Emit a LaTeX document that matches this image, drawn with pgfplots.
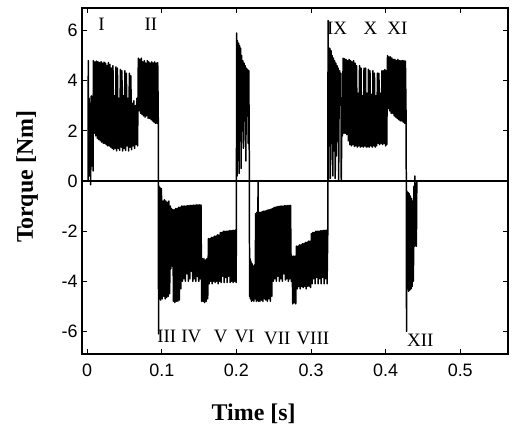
\documentclass[border=0pt]{standalone}
\usepackage{fontspec}
\setmainfont{Liberation Serif}
\setsansfont{Liberation Sans}
\usepackage{pgfplots}
\pgfplotsset{compat=1.18}
\begin{document}
\begin{tikzpicture}[x=1bp,y=1bp]
\begin{axis}[
  scale only axis, width=426bp, height=346bp,
  xmin=-0.007, xmax=0.564, ymin=-6.9, ymax=6.9,
  xtick={0,0.1,0.2,0.3,0.4,0.5},
  xticklabels={0,0.1,0.2,0.3,0.4,0.5},
  ytick={-6,-4,-2,0,2,4,6},
  /pgf/number format/assume math mode=true,
  tick label style={font=\sffamily\fontsize{18}{18}\selectfont},
  xticklabel style={yshift=-6bp},
  yticklabel style={xshift=-1bp},
  tick align=inside, major tick length=5bp,
  every tick/.style={black, line width=0.9pt},
  axis line style={line width=1.3pt},
  xlabel={\textbf{Time [s]}},
  ylabel={\textbf{Torque [Nm]}},
  label style={font=\fontsize{24}{24}\selectfont},
  xlabel style={at={(axis description cs:0.403,-0.173)}, anchor=center},
  ylabel style={at={(axis description cs:-0.129,0.512)}, anchor=center, rotate=0},
  clip=true,
]
% zero line
\addplot[black, line width=1.3pt] coordinates {(-0.007,0) (0.564,0)};
% torque trace
\addplot[black, line width=1.5pt, line join=round, line cap=round] coordinates {
(0,0) (0.0012,0) (0.0014,4.8) (0.0018,0.3) (0.0026,3.3) (0.0032,0.2) (0.0040,3.1) (0.0046,-0.15) (0.0054,3.4) (0.0062,0.6) (0.0070,3.0) (0.0078,0.4) (0.0082,4.8) (0.0090,2.5) (0.0096,4.7) (0.0102,1.9)
(0.0105,4.75) (0.0115,1.8) (0.0125,4.78) (0.0135,1.7) (0.0145,4.75) (0.0155,1.65) (0.0165,4.72) (0.0175,1.6) (0.0185,4.76) (0.0195,1.55)
(0.0205,4.7) (0.0215,1.5) (0.0225,4.74) (0.0235,1.5) (0.0245,4.7) (0.0255,1.45) (0.0265,4.6) (0.0275,1.4) (0.0285,4.72) (0.0295,1.4)
(0.0305,4.65) (0.0315,1.35) (0.0325,4.5) (0.0335,1.3) (0.0345,4.6) (0.0355,1.25) (0.0365,3.4) (0.0375,1.3) (0.0385,4.55) (0.0395,1.2)
(0.0405,4.5) (0.0415,1.3) (0.0425,3.3) (0.0435,1.22) (0.0445,4.45) (0.0455,1.35) (0.0465,4.4) (0.0475,1.2) (0.0485,3.4) (0.0495,1.3)
(0.0505,4.4) (0.0515,1.22) (0.0525,4.3) (0.0535,1.4) (0.0545,3.3) (0.0555,1.2) (0.0565,4.3) (0.0575,1.35) (0.0585,4.2) (0.0595,1.25)
(0.0605,3.1) (0.0615,1.4) (0.0625,3.2) (0.0635,1.3) (0.0645,3.0) (0.0655,1.45) (0.0665,3.3) (0.0675,1.4)
(0.0685,4.9) (0.0695,2.8) (0.0705,4.85) (0.0715,2.7) (0.0725,4.9) (0.0735,2.65) (0.0745,4.75) (0.0755,2.6) (0.0765,4.8) (0.0775,2.55)
(0.0785,4.7) (0.0795,2.6) (0.0805,4.8) (0.0815,2.5) (0.0825,4.75) (0.0835,2.5) (0.0845,4.7) (0.0855,2.45) (0.0865,4.75) (0.0875,2.4)
(0.0885,4.7) (0.0895,2.35) (0.0905,4.75) (0.0915,2.3) (0.0925,4.7) (0.0935,2.3) (0.0945,4.72) (0.0953,2.25)
(0.0956,-6.1) (0.0960,-0.2) (0.0965,-4.7) (0.0975,-0.25) (0.0985,-4.75) (0.0995,-0.3) (0.1005,-4.7) (0.1015,-0.8) (0.1025,-4.6) (0.1035,-0.75)
(0.1045,-4.7) (0.1055,-0.8) (0.1065,-4.65) (0.1075,-0.85) (0.1085,-4.6) (0.1095,-0.8) (0.1105,-4.5)
(0.1115,-1.0) (0.1122,-3.5) (0.1130,-1.1) (0.1140,-3.4) (0.1148,-1.15)
(0.1155,-4.8) (0.1165,-1.15) (0.1175,-4.85) (0.1185,-1.1) (0.1195,-4.8) (0.1205,-1.1) (0.1215,-4.8) (0.1225,-1.05) (0.1235,-4.75) (0.1245,-1.05)
(0.1255,-4.3) (0.1265,-1.0) (0.1275,-4.0) (0.1285,-1.0) (0.1295,-3.9) (0.1305,-1.0) (0.1315,-4.0) (0.1325,-1.0) (0.1335,-3.7) (0.1345,-0.98)
(0.1355,-4.0) (0.1365,-0.98) (0.1375,-3.9) (0.1385,-0.97) (0.1395,-3.6) (0.1405,-0.97) (0.1415,-4.0) (0.1425,-0.96) (0.1435,-3.9) (0.1445,-0.96)
(0.1455,-4.0) (0.1465,-0.95) (0.1475,-3.8) (0.1485,-0.95) (0.1495,-4.0) (0.1505,-0.95) (0.1515,-3.9) (0.1525,-0.95) (0.1530,-3.2)
(0.1535,-4.8) (0.1545,-3.1) (0.1555,-4.8) (0.1565,-3.1) (0.1575,-4.85) (0.1585,-3.15) (0.1595,-4.8) (0.1605,-3.1) (0.1615,-4.7) (0.1625,-2.3)
(0.1635,-4.1) (0.1645,-2.3) (0.1655,-4.0) (0.1665,-2.25) (0.1675,-4.1) (0.1685,-2.25) (0.1695,-4.0) (0.1705,-2.2) (0.1715,-4.05) (0.1725,-2.2)
(0.1735,-4.0) (0.1745,-2.15) (0.1755,-4.1) (0.1765,-2.15) (0.1775,-4.0) (0.1785,-2.05) (0.1795,-4.05) (0.1805,-2.05) (0.1815,-3.8) (0.1825,-2.0)
(0.1835,-4.05) (0.1845,-2.0) (0.1855,-3.85) (0.1865,-2.0) (0.1875,-4.05) (0.1885,-2.0) (0.1895,-3.8) (0.1905,-1.98) (0.1915,-4.05) (0.1925,-1.98)
(0.1935,-4.0) (0.1945,-1.97) (0.1955,-4.05) (0.1965,-1.97) (0.1975,-4.0) (0.1985,-1.96) (0.1995,-4.05) (0.2000,-1.96)
(0.2002,5.9) (0.2008,0.2) (0.2014,5.6) (0.2021,1.4) (0.2028,5.5) (0.2035,0.3) (0.2042,5.4) (0.2049,1.6) (0.2056,5.3) (0.2063,0.5)
(0.2070,5.0) (0.2078,2.0) (0.2086,4.8) (0.2094,1.3) (0.2102,4.7) (0.2110,2.4) (0.2118,4.6) (0.2126,0.8) (0.2134,4.5) (0.2142,2.6)
(0.2150,4.45) (0.2158,1.5) (0.2166,4.4) (0.2174,0.0)
(0.2176,-4.6) (0.2182,-3.1) (0.2188,-4.7) (0.2195,-3.2) (0.2202,-4.8) (0.2210,-3.3) (0.2218,-4.75) (0.2226,-3.4) (0.2234,-4.8) (0.2242,-3.35)
(0.2250,-4.7) (0.2258,-1.3) (0.2266,-4.8) (0.2274,-1.25) (0.2282,-4.75) (0.2290,-0.05) (0.2295,-4.8)
(0.2305,-1.25) (0.2315,-4.8) (0.2325,-1.25) (0.2335,-4.75) (0.2345,-1.22) (0.2355,-4.8) (0.2365,-1.2) (0.2375,-4.7) (0.2385,-1.2) (0.2395,-4.75)
(0.2405,-1.18) (0.2415,-4.8) (0.2425,-1.15) (0.2435,-4.7) (0.2445,-1.15) (0.2455,-4.8) (0.2465,-1.12) (0.2475,-4.6) (0.2485,-1.1) (0.2495,-4.0)
(0.2505,-1.05) (0.2515,-3.9) (0.2525,-1.05) (0.2535,-4.0) (0.2545,-1.02) (0.2555,-3.8) (0.2565,-1.02) (0.2575,-4.0) (0.2585,-1.0) (0.2595,-3.9)
(0.2605,-1.0) (0.2615,-4.0) (0.2625,-1.0) (0.2635,-3.7) (0.2645,-0.98) (0.2655,-3.95) (0.2665,-0.98) (0.2675,-3.9) (0.2685,-0.98) (0.2695,-4.0)
(0.2705,-0.97) (0.2715,-3.9) (0.2725,-0.97) (0.2735,-4.0)
(0.2745,-3.0) (0.2755,-4.9) (0.2765,-3.0) (0.2775,-4.85) (0.2785,-3.0) (0.2795,-4.9) (0.2805,-2.6) (0.2815,-4.3) (0.2825,-2.6) (0.2835,-4.2)
(0.2845,-2.55) (0.2855,-4.3) (0.2865,-2.55) (0.2875,-4.2) (0.2885,-2.5) (0.2895,-4.25) (0.2905,-2.5) (0.2915,-4.2) (0.2925,-2.45) (0.2935,-4.3)
(0.2945,-2.45) (0.2955,-4.2) (0.2965,-2.4) (0.2975,-4.2) (0.2985,-2.4) (0.2995,-4.25) (0.3005,-2.1) (0.3015,-4.1) (0.3025,-2.05) (0.3035,-3.9)
(0.3045,-2.05) (0.3055,-4.1) (0.3065,-2.0) (0.3075,-3.85) (0.3085,-2.0) (0.3095,-4.1) (0.3105,-2.0) (0.3115,-3.9) (0.3125,-1.98) (0.3135,-4.1)
(0.3145,-1.98) (0.3155,-3.85) (0.3165,-1.97) (0.3175,-4.1) (0.3185,-1.97) (0.3195,-3.9) (0.3205,-1.96) (0.3215,-4.1) (0.3225,-1.95)
(0.3228,6.4) (0.3232,0.0) (0.3238,5.3) (0.3245,1.4) (0.3252,5.3) (0.3260,0.1) (0.3268,5.2) (0.3276,1.5) (0.3284,5.0) (0.3292,0.2)
(0.3300,4.9) (0.3308,1.2) (0.3316,4.8) (0.3324,0.1) (0.3332,4.7) (0.3340,1.0) (0.3348,4.6) (0.3356,3.1) (0.3364,4.5) (0.3370,0.0)
(0.3376,3.1) (0.3384,4.4) (0.3392,3.2) (0.3400,4.3) (0.3405,0.0) (0.3412,1.9) (0.3420,1.8)
(0.3430,4.9) (0.3440,1.9) (0.3450,4.88) (0.3460,1.9) (0.3470,4.85) (0.3480,1.85) (0.3490,4.8) (0.3500,1.6) (0.3510,4.85) (0.3520,1.45)
(0.3530,4.8) (0.3540,1.4) (0.3550,4.75) (0.3560,1.45) (0.3570,4.8) (0.3580,1.38) (0.3590,4.7) (0.3600,1.4) (0.3610,4.6) (0.3620,1.35)
(0.3630,3.5) (0.3640,1.4) (0.3650,4.6) (0.3660,1.35) (0.3670,4.5) (0.3680,1.38) (0.3690,3.4) (0.3700,1.35) (0.3710,4.5) (0.3720,1.4)
(0.3730,4.5) (0.3740,1.35) (0.3750,3.5) (0.3760,1.36) (0.3770,4.45) (0.3780,1.35) (0.3790,4.4) (0.3800,1.4) (0.3810,3.45) (0.3820,1.35)
(0.3830,4.4) (0.3840,1.4) (0.3850,4.3) (0.3860,1.35) (0.3870,3.4) (0.3880,1.4) (0.3890,4.3) (0.3900,1.5) (0.3910,4.3) (0.3920,1.45)
(0.3930,3.5) (0.3940,1.5) (0.3950,4.4) (0.3960,1.45) (0.3970,4.4) (0.3980,1.5) (0.3990,4.45) (0.4000,1.4) (0.4010,4.4) (0.4015,1.45)
(0.4025,5.0) (0.4035,2.9) (0.4045,4.95) (0.4055,2.8) (0.4065,4.95) (0.4075,2.7) (0.4085,4.9) (0.4095,2.7) (0.4105,4.85) (0.4115,2.6)
(0.4125,4.85) (0.4135,2.55) (0.4145,4.8) (0.4155,2.5) (0.4165,4.85) (0.4175,2.45) (0.4185,4.8) (0.4195,2.4) (0.4205,4.8) (0.4215,2.4)
(0.4225,4.8) (0.4235,2.35) (0.4245,4.8) (0.4255,2.3) (0.4265,4.78) (0.4275,2.3)
(0.4280,-6.0) (0.4285,-0.4) (0.4292,-4.3) (0.4300,-0.45) (0.4308,-4.4) (0.4316,-0.5) (0.4324,-4.35) (0.4332,-0.6) (0.4340,-4.3) (0.4348,-0.7)
(0.4356,-4.2) (0.4364,-0.8) (0.4372,-4.0) (0.4380,-0.2) (0.4388,-2.6) (0.4392,0.2) (0.4398,-2.5) (0.4405,-0.1) (0.4412,-2.6) (0.4418,0)
(0.5640,0)
};
% phase labels
\begin{scope}[every node/.style={font=\fontsize{19}{19}\selectfont, inner sep=0pt}]
\node at (axis cs:0.0192,6.26) {I};
\node at (axis cs:0.0853,6.26) {II};
\node at (axis cs:0.3350,6.1) {IX};
\node at (axis cs:0.3795,6.1) {X};
\node at (axis cs:0.4157,6.1) {XI};
\node at (axis cs:0.1067,-6.2) {III};
\node at (axis cs:0.1395,-6.2) {IV};
\node at (axis cs:0.1790,-6.2) {V};
\node at (axis cs:0.2108,-6.2) {VI};
\node at (axis cs:0.2548,-6.28) {VII};
\node at (axis cs:0.3024,-6.28) {VIII};
\node at (axis cs:0.4465,-6.36) {XII};
\end{scope}
\end{axis}
\pgfresetboundingbox
\path (-82bp,-76bp) rectangle (431bp,354bp);
\end{tikzpicture}
\end{document}
